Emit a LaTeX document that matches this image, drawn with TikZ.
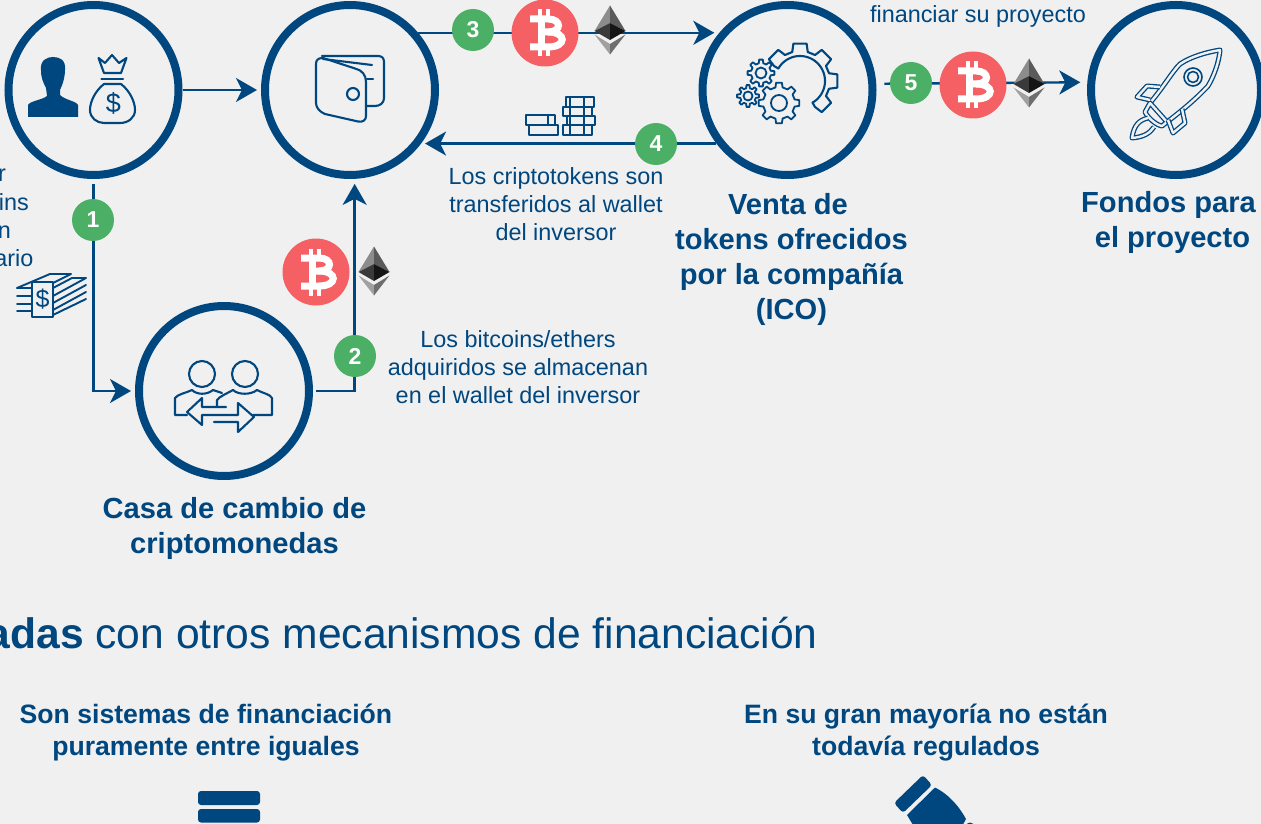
\documentclass[tikz,border=0pt]{standalone}
\usepackage{fontspec}
\setmainfont{Liberation Sans}
\usetikzlibrary{arrows.meta}
\definecolor{navy}{HTML}{00467F}
\definecolor{bgc}{HTML}{F0F0F0}
\definecolor{grn}{HTML}{4BAF66}
\definecolor{redc}{HTML}{F56064}
\definecolor{etha}{HTML}{8C8C8C}
\definecolor{ethb}{HTML}{5A5A5A}
\definecolor{ethc}{HTML}{3A3A3A}
\definecolor{ethd}{HTML}{151515}
\definecolor{ethe}{HTML}{A0A0A0}
\definecolor{ethf}{HTML}{6E6E6E}
\tikzset{
  ring/.style={circle,draw=navy,line width=8pt,minimum size=170pt,inner sep=0pt},
  conn/.style={draw=navy,line width=2.4pt,-{Stealth[inset=6pt,length=21pt,width=24pt]}},
  badge/.style={circle,fill=grn,minimum size=42pt,inner sep=0pt,text=white,font=\fontsize{23}{24}\selectfont\bfseries},
  small/.style={text=navy,align=center,inner sep=0pt,font=\fontsize{23.4}{27.7}\selectfont},
  cut/.style={text=navy,anchor=base east,inner sep=0pt,font=\fontsize{23.4}{27.7}\selectfont},
  head/.style={text=navy,align=center,inner sep=0pt,font=\fontsize{29.1}{35}\selectfont\bfseries},
  subhead/.style={text=navy,align=center,inner sep=0pt,font=\fontsize{26.6}{32}\selectfont\bfseries},
  icon/.style={draw=navy,line width=2.1pt,line join=round,line cap=round},
  rk/.style={draw=navy,line width=1.3pt,double=bgc,double distance=2.4pt,line join=round},
  btc/.pic={
    \fill[redc] (0,0) circle (33.5);
    \begin{scope}[draw=white,line width=7pt]
      \draw (-15,-14) -- (3,-14) .. controls (17,-14) and (17,-1) .. (3,-1) -- (-4,-1);
      \draw (3,-1) .. controls (22,-1) and (22,14) .. (3,14) -- (-15,14);
      \draw[line width=7pt] (-4,-17) -- (-4,17);
      \draw[line width=3.8pt] (-5.2,-23.5) -- (-5.2,23.5);
      \draw[line width=3.8pt] (3.2,-23.5) -- (3.2,-15) (3.2,15) -- (3.2,23.5);
    \end{scope}
  },
  eth/.pic={
    \fill[etha] (0,-24.5) -- (-15.5,1) -- (0,-7) -- cycle;
    \fill[ethb] (0,-24.5) -- (15.5,1) -- (0,-7) -- cycle;
    \fill[ethc] (-15.5,1) -- (0,-7) -- (0,10) -- cycle;
    \fill[ethd] (15.5,1) -- (0,-7) -- (0,10) -- cycle;
    \fill[ethe] (-15.5,4.5) -- (0,24.5) -- (0,14) -- cycle;
    \fill[ethf] (15.5,4.5) -- (0,24.5) -- (0,14) -- cycle;
  }
}
\newcommand{\smallgear}[5]{%
  \begin{scope}[shift={(#1,#2)}]
    \foreach \a in {0,45,...,315}{
      \draw[icon,line width=1.8pt] (\a-13:#4) -- (\a-8:#3) -- (\a+8:#3) -- (\a+13:#4) -- (\a+32:#4);
    }
    \draw[icon,line width=1.8pt] (0,0) circle (#5);
  \end{scope}}
\begin{document}
\begin{tikzpicture}[x=1pt,y=-1pt]
\useasboundingbox (0,0) rectangle (1261,824);
\clip (0,0) rectangle (1261,824);
\fill[bgc] (0,0) rectangle (1261,824);

% rings
\node[ring] (inv) at (93.5,90) {};
\node[ring] (wal) at (350,90) {};
\node[ring] (exc) at (224,391) {};
\node[ring] (ico) at (787.5,90) {};
\node[ring] (roc) at (1176,90) {};

% connectors
\draw[conn,shorten >=4pt] (inv.east) -- (wal.west);
\draw[conn,shorten <=5pt,shorten >=4pt] (inv.south) |- (exc.west);
\draw[conn,shorten <=3pt,shorten >=5pt] (exc.east) -| (wal.-87);
\draw[conn,shorten >=5pt] (wal.40) -- (ico.140);
\draw[conn,shorten >=4pt] (ico.217.4) -- (wal.-37.4);
\draw[conn,shorten <=8pt,shorten >=7pt] (ico.4.5) -- (roc.175.5);

% badges
\node[badge] (b1) at (93,220) {1};
\node[badge] (b2) at (355,356) {2};
\node[badge] (b3) at (473,30) {3};
\node[badge] (b4) at (656,144) {4};
\node[badge] (b5) at (911,83) {5};

% crypto icons
\pic at (316,272) {btc};
\pic at (545,33) {btc};
\pic at (973,85) {btc};
\pic at (374,271) {eth};
\pic at (610,30) {eth};
\pic at (1029,83) {eth};

% person
\fill[navy] (28,117) -- (28,105) .. controls (30,101) and (42,100) .. (47,96) -- (46,88)
  .. controls (43,82) and (41,78) .. (41,70) .. controls (40,60) and (47,57) .. (53,57)
  .. controls (60,57) and (66,60) .. (65,70) .. controls (65,78) and (62,86) .. (60,90)
  -- (60,95) .. controls (65,100) and (76,101) .. (78,105) -- (78,117) -- cycle;
% money bag
\draw[icon] (98.5,58) -- (105,63) -- (112,55) -- (119,63) -- (126.5,58) -- (121,73) -- (104,73) -- cycle;
\draw[icon] (101.5,79) -- (123,79);
\draw[icon] (104,84) .. controls (95,91) and (90,102) .. (90,110) .. controls (90,118) and (97,123) .. (104,123)
  -- (120,123) .. controls (128,123) and (135,118) .. (135,110) .. controls (135,102) and (130,91) .. (121,84) -- cycle;
\node[text=navy,inner sep=0pt,font=\fontsize{27}{28}\selectfont] (bagd) at (113.5,103) {\$};

% wallet
\draw[icon] (322,56) -- (378,56) .. controls (382,56) and (384,58) .. (384,62) -- (384,98)
  .. controls (384,103) and (380,106) .. (375,106) -- (367,106);
\draw[icon] (323,59) -- (372,65);
\draw[icon] (367,79) -- (373,79);
\draw[icon] (323,58) .. controls (318,58) and (316,60) .. (316,64) -- (316,103)
  .. controls (316,108) and (320,112) .. (325,114) -- (358,121.5)
  .. controls (363,122.5) and (366,120) .. (366,116) -- (366,82)
  .. controls (366,75) and (362,70) .. (355,68.5) -- (323,58);
\draw[icon] (353,94) circle (6);

% banknotes
\draw[icon,line width=1.9pt] (17,288) -- (32,288) (17,296) -- (32,296) (17,304) -- (32,304) (17,311) -- (32,311);
\draw[icon,line width=1.9pt] (32,282) -- (53,282) -- (53,317) -- (32,317) -- cycle;
\draw[icon,line width=1.9pt] (17,288) -- (50,274) -- (71,274) -- (53,283);
\draw[icon,line width=1.9pt] (53,288) -- (72,278) -- (86,278) -- (53,296);
\draw[icon,line width=1.9pt] (53,303) -- (86,285) (53,310) -- (86,292) (53,315) -- (86,299);
\node[text=navy,inner sep=0pt,font=\fontsize{25}{26}\selectfont] (notd) at (42.5,299) {\$};

% exchange icon
\draw[icon] (202,374) circle (13);
\draw[icon] (245,374) circle (13);
\draw[icon] (187,415) -- (175,415) -- (175,398) .. controls (178,394) and (186,393) .. (192,390)
  .. controls (197,395) and (207,395) .. (213,390) -- (222,393);
\draw[icon] (217,407) -- (217,400) .. controls (220,396) and (228,393) .. (233,390)
  .. controls (238,395) and (251,395) .. (257,390) .. controls (262,393) and (270,394) .. (272,398) -- (272,415) -- (253,415);
\draw[icon] (226,407) -- (202,407) -- (202,398) -- (187,412) -- (202,425) -- (202,415) -- (238,415) -- (238,403) -- (254,417) -- (238,432) -- (238,422) -- (214,422);

% gears
\smallgear{761}{73}{13.5}{10}{5.5}
\smallgear{748}{96}{11}{8}{4.5}
\smallgear{779}{103}{20.5}{16}{8}
\begin{scope}[shift={(800,81)}]
  \foreach \a in {-135,-90,-45,0,45}{
    \draw[icon] (\a-15:30) -- (\a-10:38) -- (\a+10:38) -- (\a+15:30);
  }
  \foreach \a in {-135,-90,-45,0}{
    \draw[icon] (\a+15:30) -- (\a+30:30);
  }
  \draw[icon] plot[domain=-150:60,samples=40] (\x:25);
  \draw[icon] (-150:25) -- (-150:30) (60:25) -- (60:30);
\end{scope}

% coin stacks
\draw[icon] (526,115) rectangle (555,125);
\draw[icon] (529,125) rectangle (558,135);
\draw[icon] (566,97) rectangle (594,107);
\draw[icon] (563,107) rectangle (592,116);
\draw[icon] (567,116) rectangle (595,125);
\draw[icon] (563,125) rectangle (592,135);
\draw[icon] (570,97) -- (570,135) (584,97) -- (584,135);
\draw[icon] (548,115) -- (548,125);

% rocket
\draw[rk] (1150,103) .. controls (1165,85) and (1172,72) .. (1180,64) .. controls (1192,56) and (1208,52) .. (1220,50)
  .. controls (1219,62) and (1214,76) .. (1208,86) .. controls (1195,100) and (1180,112) .. (1167,122);
\draw[rk] (1145,112) -- (1150,103) -- (1167,122) -- (1162,126) .. controls (1156,125) and (1148,118) .. (1145,112) -- cycle;
\draw[rk] (1148,118) .. controls (1140,120) and (1134,124) .. (1132,138) .. controls (1144,137) and (1150,133) .. (1154,127);
\draw[rk] (1150,100) -- (1137,97) -- (1147,86) -- (1160,87);
\draw[rk] (1168,120) -- (1173,133) -- (1185,123) -- (1182,109);
\draw[icon,line width=1.6pt] (1193,77) circle (9);
\draw[icon,line width=1.6pt] (1193,77) circle (5.5);

% bottom icons
\fill[navy,rounded corners=3pt] (198,791) rectangle (260,805);
\fill[navy,rounded corners=3pt] (198,809) rectangle (260,822.5);
\fill[navy,rounded corners=3pt] (923,775) -- (932,785) -- (903,813) -- (894,803) -- cycle;
\fill[navy] (935,787.5) .. controls (950,795) and (960,808) .. (966,819) -- (960,830) -- (916,830) -- (907,815) -- cycle;
\fill[navy] (970,827) circle (4.5);

% labels
\node[cut] (t1) at (6,182) {r};
\node[cut] (t2) at (29,210) {ins};
\node[cut] (t3) at (11,238) {n};
\node[cut] (t4) at (33.5,266) {ario};
\node[small] (t5) at (556,204) {Los criptotokens son\\transferidos al wallet\\del inversor};
\node[small] (t6) at (518,367) {Los bitcoins/ethers\\adquiridos se almacenan\\en el wallet del inversor};
\node[small] (t7) at (978,16) {financiar su proyecto};
\node[head] (h1) at (234.5,528) {Casa de cambio de\\criptomonedas};
\node[head] (h2) at (791.5,259) {Venta de\hspace*{7pt}\\tokens ofrecidos\\por la compañía\\(ICO)};
\node[head] (h3) at (1168.5,222.5) {Fondos para\\\hspace*{8pt}el proyecto};
\node[text=navy,anchor=base east,inner sep=0pt,font=\fontsize{42.6}{48}\selectfont] (title) at (818,648) {\textbf{adas} con otros mecanismos de financiación};
\node[subhead] (s1) at (206,733) {Son sistemas de financiación\\puramente entre iguales};
\node[subhead] (s2) at (926,733) {En su gran mayoría no están\\todavía regulados};
\end{tikzpicture}
\end{document}
